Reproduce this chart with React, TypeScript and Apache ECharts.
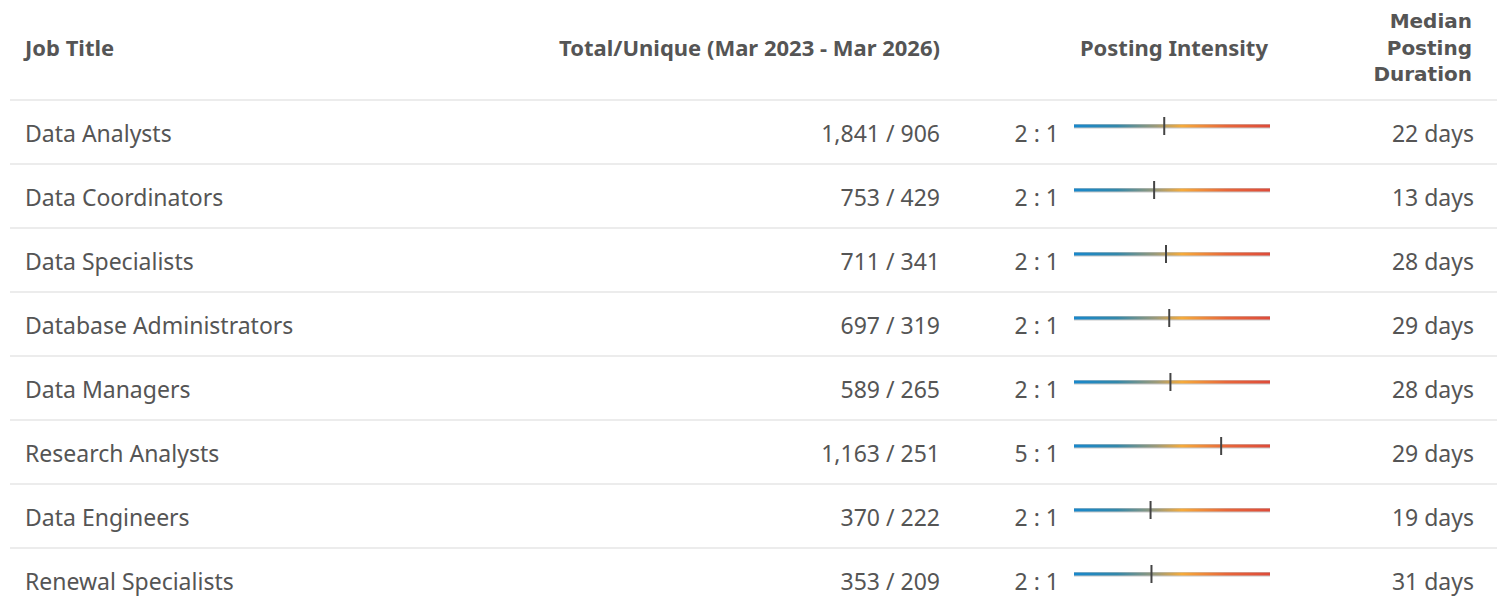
import React, { useEffect, useRef } from "react";
import * as echarts from "echarts";

// ---------- data ----------
const jobTitles = [
  "Data Analysts",
  "Data Coordinators",
  "Data Specialists",
  "Database Administrators",
  "Data Managers",
  "Research Analysts",
  "Data Engineers",
  "Renewal Specialists",
];
const totalPostings = [1841, 753, 711, 697, 589, 1163, 370, 353];
const uniquePostings = [906, 429, 341, 319, 265, 251, 222, 209];
const intensityLabels = ["2 : 1", "2 : 1", "2 : 1", "2 : 1", "2 : 1", "5 : 1", "2 : 1", "2 : 1"];
const medianDurationDays = [22, 13, 28, 29, 28, 29, 19, 31];

const headerTitle = "Job Title";
const headerTotals = "Total/Unique (Mar 2023 - Mar 2026)";
const headerIntensity = "Posting Intensity";
const headerDurationLines = ["Median", "Posting", "Duration"];

// ---------- style / layout ----------
const FONT = "'Noto Sans', sans-serif";
const STACK_FONT = "'DejaVu Sans', sans-serif";
const BODY_SIZE = 23;
const HEAD_SIZE = 22;
const TEXT_COLOR = "#555555";
const ROW_H = 64;
const TOP = 100;

const fmt = (n: number) => n.toLocaleString("en-US");

export default function App() {
  const ref = useRef<HTMLDivElement>(null);

  useEffect(() => {
    document.body.style.margin = "0";
    if (!ref.current) return;
    const chart = echarts.init(ref.current, undefined, { renderer: "svg" });

    const data = jobTitles.map((_, i) => [totalPostings[i] / uniquePostings[i], i]);

    const gradient = {
      type: "linear",
      x: 0,
      y: 0,
      x2: 1,
      y2: 0,
      colorStops: [
        { offset: 0, color: "#1888cc" },
        { offset: 0.22, color: "#3388aa" },
        { offset: 0.42, color: "#9c9a78" },
        { offset: 0.55, color: "#f6ab3a" },
        { offset: 0.78, color: "#e8663a" },
        { offset: 1, color: "#de4b3a" },
      ],
    };

    const bodyText = (text: string, x: number, y: number, align: string) => ({
      type: "text",
      style: {
        text,
        x,
        y,
        align,
        verticalAlign: "middle",
        fontSize: BODY_SIZE,
        fontFamily: FONT,
        fill: TEXT_COLOR,
      },
    });

    const headText = (
      text: string,
      x: number,
      y: number,
      align: string,
      size = HEAD_SIZE,
      family = FONT
    ) => ({
      type: "text",
      style: {
        text,
        x,
        y,
        align,
        verticalAlign: "middle",
        fontSize: size,
        fontWeight: "bold",
        fontFamily: family,
        fill: TEXT_COLOR,
      },
    });

    chart.setOption({
      animation: false,
      backgroundColor: "#ffffff",
      grid: {
        left: 1074,
        width: 196,
        top: TOP,
        height: ROW_H * jobTitles.length,
        outerBoundsMode: "none",
        containLabel: false,
      },
      xAxis: { type: "log", min: 0.55, max: 9.4, show: false },
      yAxis: { type: "category", data: jobTitles, inverse: true, show: false },
      graphic: [
        headText(headerTitle, 25, 47, "left"),
        headText(headerTotals, 940, 47, "right"),
        headText(headerIntensity, 1268, 47, "right"),
        ...headerDurationLines.map((t, i) =>
          headText(t, 1472, 21 + i * 26.5, "right", 20, STACK_FONT)
        ),
      ],
      series: [
        {
          type: "custom",
          clip: false,
          data,
          renderItem: (params: any, api: any) => {
            const idx = api.value(1);
            const ratio = api.value(0);
            const pt = api.coord([ratio, idx]);
            const cs = params.coordSys;
            const cy = pt[1];
            const lineY = cy - 6;
            return {
              type: "group",
              children: [
                {
                  type: "rect",
                  shape: { x: 10, y: cy - ROW_H / 2 - 1, width: 1487, height: 2 },
                  style: { fill: "#ececec" },
                },
                bodyText(jobTitles[idx], 25, cy + 1, "left"),
                bodyText(
                  fmt(totalPostings[idx]) + " / " + fmt(uniquePostings[idx]),
                  940,
                  cy + 1,
                  "right"
                ),
                bodyText(intensityLabels[idx], 1059, cy + 1, "right"),
                bodyText(medianDurationDays[idx] + " days", 1474, cy + 1, "right"),
                {
                  type: "rect",
                  shape: { x: cs.x, y: lineY - 2, width: cs.width, height: 4.5 },
                  style: { fill: "#c8c8c8" },
                },
                {
                  type: "rect",
                  shape: { x: cs.x, y: lineY - 1.5, width: cs.width, height: 3 },
                  style: { fill: gradient },
                },
                {
                  type: "rect",
                  shape: { x: pt[0] - 1, y: lineY - 9, width: 2, height: 18 },
                  style: { fill: "#444444" },
                },
              ],
            };
          },
        },
      ],
    });

    return () => chart.dispose();
  }, []);

  return <div ref={ref} style={{ width: 1497, height: 608 }} />;
}
